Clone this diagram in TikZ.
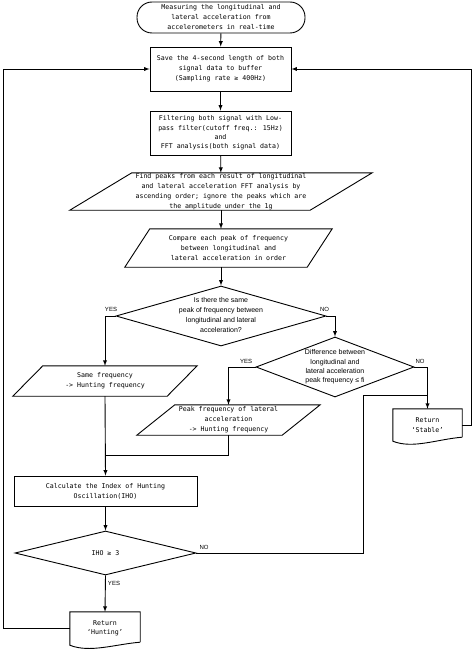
\documentclass[tikz,border=0pt]{standalone}
\usepackage{fontspec}
\newfontfamily\monof{DejaVu Sans Mono}
\newfontfamily\sansf{Liberation Sans}
\usetikzlibrary{shapes,arrows}
\tikzstyle{l1}=[line width=0.9]
\tikzstyle{proc}=[rectangle, draw=black, l1, inner sep=0pt, align=center, font=\monof\fontsize{6.6}{10}\selectfont]
\tikzstyle{term}=[proc, rounded corners=15pt]
\tikzstyle{io}=[rectangle, inner sep=0pt, align=center, font=\monof\fontsize{6.6}{10}\selectfont]
\tikzstyle{dec}=[diamond, aspect=3, draw=black, l1, inner sep=0pt, font=\sansf\fontsize{7}{10}\selectfont]
\tikzstyle{doc}=[rectangle, inner sep=0pt, align=center, font=\monof\fontsize{6.6}{9.3}\selectfont]
\tikzstyle{lbl}=[inner sep=0pt, font=\sansf\fontsize{6}{7}\selectfont]
\newcommand{\ctext}[1]{\smash{\raisebox{-1.7pt}{\begin{tabular}{@{}c@{}}#1\end{tabular}}}}

\begin{document}
\begin{tikzpicture}[x=1pt, y=-1pt, >=latex]
    \useasboundingbox (0,0) rectangle (474,650);

    \node (start) [term, minimum width=168pt, minimum height=31pt] at (221,17.5) {Measuring the longitudinal and\\lateral acceleration from\\accelerometers in real-time};
    \node (save) [proc, minimum width=141pt, minimum height=44pt] at (220.5,69) {Save the 4-second length of both\\signal data to buffer\\(Sampling rate ≥ 400Hz)};
    \node (filt) [proc, minimum width=141pt, minimum height=44pt, font=\monof\fontsize{6.6}{9.3}\selectfont] at (220.5,133) {Filtering both signal with Low-\\pass filter(cutoff freq.: 15Hz)\\and\\FFT analysis(both signal data)};
    \node (find) [io, minimum width=240pt, minimum height=37pt] at (221,191.5) {Find peaks from each result of longitudinal\\and lateral acceleration FFT analysis by\\ascending order; ignore the peaks which are\\the amplitude under the 1g};
    \node (cmp) [io, minimum width=182pt, minimum height=38pt] at (228.5,248) {Compare each peak of frequency\\between longitudinal and\\lateral acceleration in order};

    \node (dia1) [dec, minimum width=210pt, minimum height=60pt] at (221,316) {\ctext{Is there the same\\peak of frequency between\\longitudinal and lateral\\acceleration?}};
    \node (dia2) [dec, minimum width=158pt, minimum height=60pt, font=\sansf\fontsize{7}{9.3}\selectfont] at (335,367) {\ctext{Difference between\\longitudinal and\\lateral acceleration\\peak frequency ≤ fi}};

    \node (samef) [io, minimum width=154pt, minimum height=30pt] at (105,381) {Same frequency\\-> Hunting frequency};
    \node (peak) [io, minimum width=145pt, minimum height=30pt] at (228.5,420) {Peak frequency of lateral\\acceleration\\-> Hunting frequency};

    \node (calc) [proc, minimum width=183pt, minimum height=30pt] at (105.5,491) {Calculate the Index of Hunting\\Oscillation(IHO)};
    \node (iho) [dec, minimum width=181pt, minimum height=44pt, font=\monof\fontsize{6.6}{10}\selectfont] at (105.5,553) {IHO ≥ 3};

    \node (stab) [doc, minimum width=69pt, minimum height=32pt] at (427.5,425) {Return\\‘Stable’};
    \node (hunt) [doc, minimum width=70pt, minimum height=33pt] at (105,628.5) {Return\\‘Hunting’};

    % parallelograms and documents
    \foreach \n/\s in {find/31, cmp/12.5, samef/15, peak/19}
        \draw[l1] ([xshift=-\s pt]\n.south west) -- ([xshift=\s pt]\n.north west) -- ([xshift=\s pt]\n.north east) -- ([xshift=-\s pt]\n.south east) -- cycle;
    \draw[l1] ([yshift=4pt]stab.south east) -- (stab.north east) -- (stab.north west) -- (stab.south west) .. controls +(20,8) and +(-25,2) .. ([yshift=4pt]stab.south east);
    \draw[l1] ([yshift=3pt]hunt.south east) -- (hunt.north east) -- (hunt.north west) -- (hunt.south west) .. controls +(20,8) and +(-25,2) .. ([yshift=3pt]hunt.south east);

    \node (yes1) [lbl] at (111,309) {YES};
    \node (no1) [lbl] at (324.5,309) {NO};
    \node (yes2) [lbl] at (246,361) {YES};
    \node (no2) [lbl] at (420,361) {NO};
    \node (no3) [lbl] at (204,547) {NO};
    \node (yes3) [lbl] at (114,583) {YES};

    \coordinate (mrg) at (105,455);
    \coordinate (nojoin) at (427.5,395);

    \draw[l1, ->] (start) -- (save);
    \draw[l1, ->] (save) -- (filt);
    \draw[l1, ->] (filt) -- (find);
    \draw[l1, ->] (find.south) -- (find.south |- cmp.north);
    \draw[l1, ->] (cmp.south -| dia1.north) -- (dia1.north);
    \draw[l1, ->] (dia1.west) -| (samef.north);
    \draw[l1, ->] (dia1.east) -| (dia2.north);
    \draw[l1, ->] (dia2.west) -| (peak.north);
    \draw[l1, ->] (dia2.east) -| (stab.north);
    \draw[l1, ->] (samef.south) -- (calc.north);
    \draw[l1] (peak.south) |- (mrg);
    \draw[l1, ->] (calc) -- (iho);
    \draw[l1, ->] (iho.south) -- (hunt.north);
    \draw[l1] (iho.east) -- (363,553) |- (nojoin);
    \draw[l1, ->] (stab.east) -- (471,425) |- (save.east);
    \draw[l1, ->] (hunt.west) -- (3,628.5) |- (save.west);
\end{tikzpicture}
\end{document}
